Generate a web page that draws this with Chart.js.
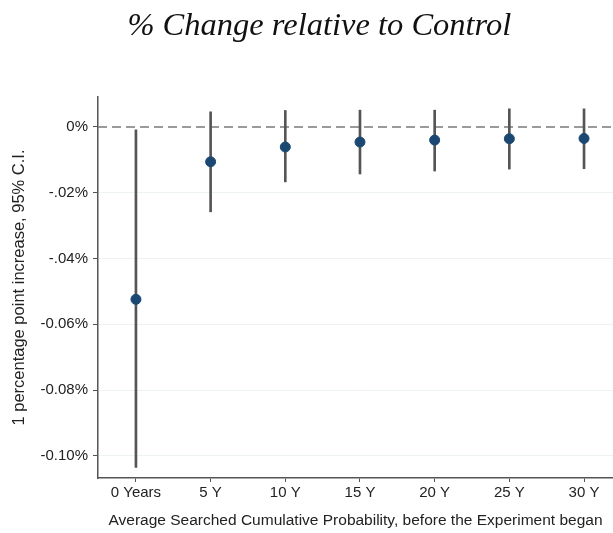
<!DOCTYPE html>
<html><head><meta charset="utf-8">
<script src="https://cdn.jsdelivr.net/npm/chart.js@4"></script>
<style>html,body{margin:0;padding:0;background:#fff;overflow:hidden}#wrap{width:613px;height:533px}</style>
</head><body><div id="wrap"><canvas id="c" width="613" height="533"></canvas></div>
<script>
const chartTitle = '% Change relative to Control';
const years = [0, 5, 10, 15, 20, 25, 30];
const xTickLabels = ["0 Years", "5 Y", "10 Y", "15 Y", "20 Y", "25 Y", "30 Y"];
const estimate = [-0.0524, -0.0106, -0.0061, -0.0046, -0.0040, -0.0036, -0.0035];
const ciLow = [-0.1035, -0.0258, -0.0167, -0.0143, -0.0134, -0.0128, -0.0127];
const ciHigh = [-0.0009, 0.0046, 0.0050, 0.0051, 0.0051, 0.0055, 0.0055];
const yTicks = [0, -0.02, -0.04, -0.06, -0.08, -0.10];
const yTickLabels = ["0%", "-.02%", "-.04%", "-0.06%", "-0.08%", "-0.10%"];
const xMin = -2.54, xMax = 31.94, yMin = -0.1067, yMax = 0.0091;

const ciData = years.map((x, i) => ({x: x, y: [ciLow[i], ciHigh[i]]}));
const ptData = years.map((x, i) => ({x: x, y: estimate[i]}));

const titlePlugin = {
  id: 'offsetTitle',
  afterDraw(chart) {
    const ctx = chart.ctx;
    ctx.save();
    ctx.font = 'italic 32.5px "Liberation Serif"';
    ctx.fillStyle = '#111';
    ctx.textAlign = 'center';
    ctx.textBaseline = 'middle';
    ctx.fillText(chartTitle, chart.width * 0.521, 26.5);
    ctx.restore();
  }
};

new Chart(document.getElementById('c'), {
  data: {
    datasets: [
      {type: 'line', data: [{x: xMin, y: 0}, {x: xMax, y: 0}], borderColor: '#7a7a7a', borderWidth: 1.5,
       borderDash: [9, 5], pointRadius: 0, order: 3},
      {type: 'bar', data: ciData, backgroundColor: '#555555', barThickness: 2, order: 2},
      {type: 'scatter', data: ptData, backgroundColor: '#1a4872', borderColor: '#1a4872',
       pointRadius: 5, pointHoverRadius: 5, order: 1}
    ]
  },
  plugins: [titlePlugin],
  options: {
    responsive: false, animation: false,
    layout: {autoPadding: false, padding: {left: 0, right: 0, top: 97, bottom: 0}},
    plugins: {
      legend: {display: false}, tooltip: {enabled: false}, title: {display: false}
    },
    scales: {
      x: {type: 'linear', min: xMin, max: xMax, offset: false,
        afterBuildTicks: s => { s.ticks = years.map(v => ({value: v})); },
        afterFit: s => { s.height = 55; s.paddingLeft = 0; s.paddingRight = 0; },
        ticks: {color: '#222', font: {family: 'Liberation Sans', size: 15}, padding: 2, maxRotation: 0,
          callback: (v) => xTickLabels[years.indexOf(v)]},
        grid: {display: true, offset: false, drawOnChartArea: false, tickLength: 4, tickColor: '#555'},
        border: {display: true, color: '#555', width: 1.5},
        title: {display: true, text: 'Average Searched Cumulative Probability, before the Experiment began',
          color: '#222', font: {family: 'Liberation Sans', size: 15.5}, padding: {top: 8, bottom: 3}}
      },
      y: {min: yMin, max: yMax,
        afterBuildTicks: s => { s.ticks = yTicks.map(v => ({value: v})); },
        afterFit: s => { s.width = 98; },
        ticks: {color: '#222', font: {family: 'Liberation Sans', size: 15}, padding: 5,
          callback: (v) => { const i = yTicks.findIndex(t => Math.abs(t - v) < 1e-9); return i >= 0 ? yTickLabels[i] : ''; }},
        grid: {color: ctx => (ctx.tick && Math.abs(ctx.tick.value) < 1e-9) ? 'rgba(0,0,0,0)' : '#edf2f2',
          lineWidth: 1, tickLength: 5, tickColor: '#555', drawTicks: true},
        border: {display: true, color: '#555', width: 1.5},
        title: {display: true, text: '1 percentage point increase, 95% C.I.', color: '#222',
          font: {family: 'Liberation Sans', size: 16.5}, padding: {top: 10, bottom: 0}}
      }
    }
  }
});
</script></body></html>
